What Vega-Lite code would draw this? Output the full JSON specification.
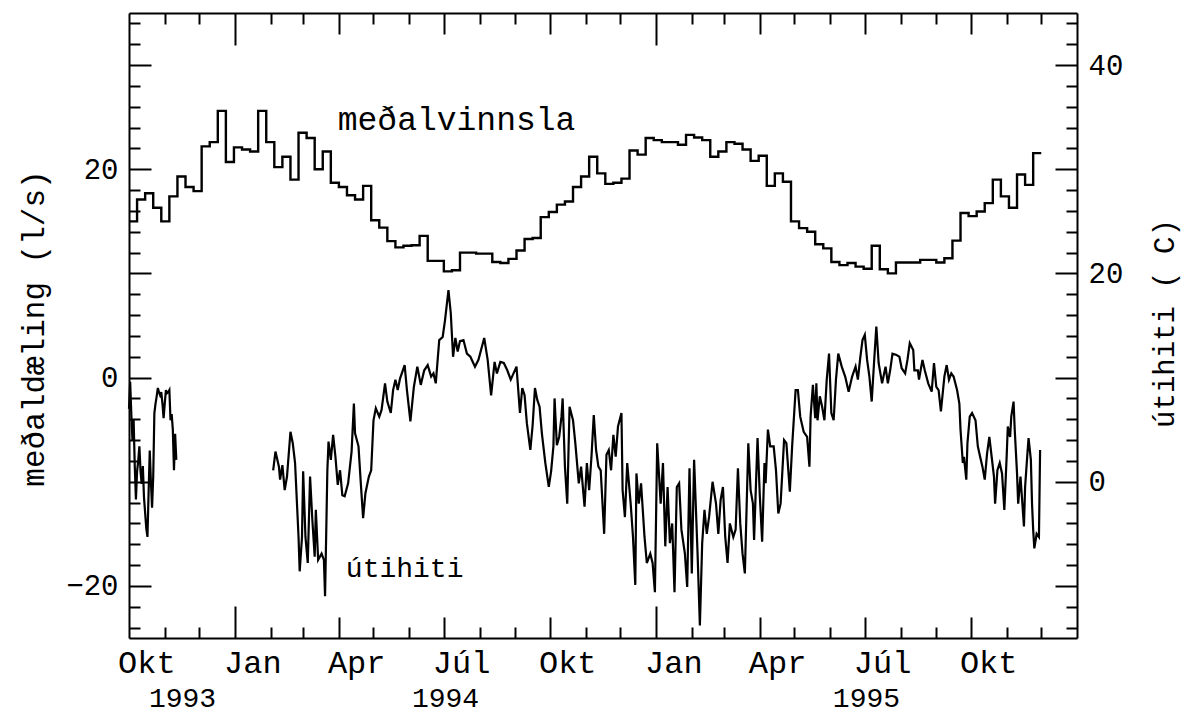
{
  "$schema": "https://vega.github.io/schema/vega-lite/v6.json",
  "autosize": "none",
  "width": 948,
  "height": 625,
  "padding": {"left": 129, "top": 13, "right": 106, "bottom": 76},
  "background": "white",
  "config": {
    "font": "Liberation Mono",
    "view": {"stroke": null},
    "axis": {"grid": false, "domainColor": "black", "domainWidth": 2, "tickColor": "black", "tickWidth": 2, "labelColor": "black", "titleColor": "black", "labelFont": "Liberation Mono", "titleFont": "Liberation Mono", "titleFontWeight": "normal", "labelFlush": false, "labelOverlap": false, "labelBound": false}
  },
  "datasets": {
    "cons": [
      {"d":"1993-10-01","v":15.0},{"d":"1993-10-08","v":17.1},{"d":"1993-10-15","v":17.7},{"d":"1993-10-22","v":16.3},{"d":"1993-10-29","v":15.0},
      {"d":"1993-11-05","v":17.4},{"d":"1993-11-12","v":19.3},{"d":"1993-11-19","v":18.3},{"d":"1993-11-26","v":17.9},{"d":"1993-12-03","v":22.2},
      {"d":"1993-12-10","v":22.6},{"d":"1993-12-17","v":25.6},{"d":"1993-12-24","v":20.7},{"d":"1993-12-31","v":22.1},{"d":"1994-01-07","v":21.9},
      {"d":"1994-01-14","v":21.7},{"d":"1994-01-21","v":25.6},{"d":"1994-01-28","v":22.6},{"d":"1994-02-04","v":20.2},{"d":"1994-02-11","v":21.2},
      {"d":"1994-02-18","v":19.0},{"d":"1994-02-25","v":23.5},{"d":"1994-03-04","v":23.0},{"d":"1994-03-11","v":20.0},{"d":"1994-03-18","v":21.7},
      {"d":"1994-03-25","v":18.7},{"d":"1994-04-01","v":18.3},{"d":"1994-04-08","v":17.5},{"d":"1994-04-15","v":17.1},{"d":"1994-04-22","v":18.4},
      {"d":"1994-04-29","v":15.1},{"d":"1994-05-06","v":14.4},{"d":"1994-05-13","v":13.1},{"d":"1994-05-20","v":12.5},{"d":"1994-05-27","v":12.65},
      {"d":"1994-06-03","v":12.7},{"d":"1994-06-10","v":13.6},{"d":"1994-06-17","v":11.2},{"d":"1994-06-24","v":11.2},{"d":"1994-07-01","v":10.2},
      {"d":"1994-07-08","v":10.3},{"d":"1994-07-15","v":12.0},{"d":"1994-07-22","v":12.0},{"d":"1994-07-29","v":11.9},{"d":"1994-08-05","v":11.9},
      {"d":"1994-08-12","v":11.1},{"d":"1994-08-19","v":11.0},{"d":"1994-08-26","v":11.4},{"d":"1994-09-02","v":12.2},{"d":"1994-09-09","v":13.3},
      {"d":"1994-09-16","v":13.4},{"d":"1994-09-23","v":15.4},{"d":"1994-09-30","v":15.9},{"d":"1994-10-07","v":16.6},{"d":"1994-10-14","v":16.9},
      {"d":"1994-10-21","v":18.3},{"d":"1994-10-28","v":19.3},{"d":"1994-11-04","v":21.2},{"d":"1994-11-11","v":19.6},{"d":"1994-11-18","v":18.6},
      {"d":"1994-11-25","v":18.7},{"d":"1994-12-02","v":19.1},{"d":"1994-12-09","v":21.8},{"d":"1994-12-16","v":21.4},{"d":"1994-12-23","v":23.0},
      {"d":"1994-12-30","v":22.8},{"d":"1995-01-06","v":22.6},{"d":"1995-01-13","v":22.6},{"d":"1995-01-20","v":22.35},{"d":"1995-01-27","v":23.3},
      {"d":"1995-02-03","v":23.05},{"d":"1995-02-10","v":22.8},{"d":"1995-02-17","v":21.2},{"d":"1995-02-24","v":21.7},{"d":"1995-03-03","v":22.6},
      {"d":"1995-03-10","v":22.45},{"d":"1995-03-17","v":21.9},{"d":"1995-03-24","v":20.8},{"d":"1995-03-31","v":21.3},{"d":"1995-04-07","v":18.4},
      {"d":"1995-04-14","v":19.6},{"d":"1995-04-21","v":18.8},{"d":"1995-04-28","v":15.0},{"d":"1995-05-05","v":14.35},{"d":"1995-05-12","v":14.0},
      {"d":"1995-05-19","v":12.8},{"d":"1995-05-26","v":12.4},{"d":"1995-06-02","v":11.1},{"d":"1995-06-09","v":10.8},{"d":"1995-06-16","v":11.0},
      {"d":"1995-06-23","v":10.65},{"d":"1995-06-30","v":10.45},{"d":"1995-07-07","v":12.65},{"d":"1995-07-14","v":10.4},{"d":"1995-07-21","v":10.0},
      {"d":"1995-07-28","v":11.05},{"d":"1995-08-04","v":11.05},{"d":"1995-08-11","v":11.05},{"d":"1995-08-18","v":11.3},{"d":"1995-08-25","v":11.3},
      {"d":"1995-09-01","v":11.05},{"d":"1995-09-08","v":11.45},{"d":"1995-09-15","v":13.15},{"d":"1995-09-22","v":15.8},{"d":"1995-09-29","v":15.5},
      {"d":"1995-10-06","v":15.95},{"d":"1995-10-13","v":16.75},{"d":"1995-10-20","v":19.0},{"d":"1995-10-27","v":17.4},{"d":"1995-11-03","v":16.3},
      {"d":"1995-11-10","v":19.5},{"d":"1995-11-17","v":18.5},{"d":"1995-11-24","v":21.55},{"d":"1995-12-01","v":21.55}
    ],
    "temp": [
      {"d":"1993-10-01","t":7.0,"s":1},{"d":"1993-10-02","t":9.6,"s":1},{"d":"1993-10-03","t":6.5,"s":1},{"d":"1993-10-04","t":4.0,"s":1},
      {"d":"1993-10-05","t":6.0,"s":1},{"d":"1993-10-06","t":1.5,"s":1},{"d":"1993-10-07","t":-1.7,"s":1},{"d":"1993-10-08","t":1.0,"s":1},
      {"d":"1993-10-09","t":2.0,"s":1},{"d":"1993-10-10","t":3.4,"s":1},{"d":"1993-10-11","t":1.0,"s":1},{"d":"1993-10-12","t":-0.2,"s":1},
      {"d":"1993-10-13","t":1.5,"s":1},{"d":"1993-10-14","t":-1.5,"s":1},{"d":"1993-10-15","t":-3.0,"s":1},{"d":"1993-10-16","t":-4.5,"s":1},
      {"d":"1993-10-17","t":-5.3,"s":1},{"d":"1993-10-18","t":-1.0,"s":1},{"d":"1993-10-19","t":3.0,"s":1},{"d":"1993-10-20","t":0.0,"s":1},
      {"d":"1993-10-21","t":-2.5,"s":1},{"d":"1993-10-22","t":0.5,"s":1},{"d":"1993-10-23","t":6.6,"s":1},{"d":"1993-10-24","t":7.5,"s":1},
      {"d":"1993-10-25","t":8.2,"s":1},{"d":"1993-10-26","t":9.0,"s":1},{"d":"1993-10-27","t":8.6,"s":1},{"d":"1993-10-28","t":8.3,"s":1},
      {"d":"1993-10-29","t":8.6,"s":1},{"d":"1993-10-30","t":7.5,"s":1},{"d":"1993-10-31","t":6.1,"s":1},{"d":"1993-11-01","t":7.5,"s":1},
      {"d":"1993-11-02","t":8.8,"s":1},{"d":"1993-11-03","t":8.5,"s":1},{"d":"1993-11-04","t":8.6,"s":1},{"d":"1993-11-05","t":8.8,"s":1},
      {"d":"1993-11-06","t":5.9,"s":1},{"d":"1993-11-07","t":6.5,"s":1},{"d":"1993-11-08","t":5.0,"s":1},{"d":"1993-11-09","t":1.1,"s":1},
      {"d":"1993-11-10","t":4.6,"s":1},{"d":"1993-11-11","t":2.1,"s":1},
      {"d":"1994-02-03","t":1.1,"s":2},{"d":"1994-02-05","t":2.9,"s":2},{"d":"1994-02-08","t":1.45,"s":2},{"d":"1994-02-09","t":0.2,"s":2},
      {"d":"1994-02-11","t":1.6,"s":2},{"d":"1994-02-13","t":-0.8,"s":2},{"d":"1994-02-15","t":0.5,"s":2},{"d":"1994-02-18","t":4.8,"s":2},
      {"d":"1994-02-20","t":3.7,"s":2},{"d":"1994-02-22","t":1.8,"s":2},{"d":"1994-02-25","t":-5.3,"s":2},{"d":"1994-02-26","t":-8.6,"s":2},
      {"d":"1994-02-28","t":-5.3,"s":2},{"d":"1994-03-01","t":1.0,"s":2},{"d":"1994-03-03","t":-5.3,"s":2},{"d":"1994-03-05","t":-7.8,"s":2},
      {"d":"1994-03-07","t":0.5,"s":2},{"d":"1994-03-09","t":-3.7,"s":2},{"d":"1994-03-11","t":-7.2,"s":2},{"d":"1994-03-12","t":-2.7,"s":2},
      {"d":"1994-03-14","t":-7.5,"s":2},{"d":"1994-03-17","t":-6.9,"s":2},{"d":"1994-03-19","t":-7.5,"s":2},{"d":"1994-03-20","t":-11.0,"s":2},
      {"d":"1994-03-22","t":1.1,"s":2},{"d":"1994-03-23","t":3.85,"s":2},{"d":"1994-03-25","t":2.1,"s":2},{"d":"1994-03-27","t":4.5,"s":2},
      {"d":"1994-03-29","t":2.4,"s":2},{"d":"1994-03-31","t":-0.3,"s":2},{"d":"1994-04-02","t":1.1,"s":2},{"d":"1994-04-04","t":-1.3,"s":2},
      {"d":"1994-04-06","t":-1.4,"s":2},{"d":"1994-04-09","t":-0.15,"s":2},{"d":"1994-04-12","t":2.9,"s":2},{"d":"1994-04-14","t":7.5,"s":2},
      {"d":"1994-04-15","t":4.65,"s":2},{"d":"1994-04-18","t":3.4,"s":2},{"d":"1994-04-20","t":-0.15,"s":2},{"d":"1994-04-22","t":-3.5,"s":2},
      {"d":"1994-04-24","t":-1.1,"s":2},{"d":"1994-04-27","t":0.5,"s":2},{"d":"1994-04-29","t":1.1,"s":2},{"d":"1994-05-01","t":5.9,"s":2},
      {"d":"1994-05-03","t":7.05,"s":2},{"d":"1994-05-06","t":6.25,"s":2},{"d":"1994-05-08","t":6.9,"s":2},{"d":"1994-05-11","t":9.45,"s":2},
      {"d":"1994-05-13","t":7.7,"s":2},{"d":"1994-05-16","t":6.6,"s":2},{"d":"1994-05-18","t":8.8,"s":2},{"d":"1994-05-20","t":9.8,"s":2},
      {"d":"1994-05-22","t":8.8,"s":2},{"d":"1994-05-24","t":9.9,"s":2},{"d":"1994-05-28","t":11.2,"s":2},{"d":"1994-05-30","t":8.8,"s":2},
      {"d":"1994-06-02","t":5.8,"s":2},{"d":"1994-06-05","t":9.1,"s":2},{"d":"1994-06-08","t":11.05,"s":2},{"d":"1994-06-11","t":9.3,"s":2},
      {"d":"1994-06-14","t":10.7,"s":2},{"d":"1994-06-17","t":11.2,"s":2},{"d":"1994-06-20","t":10.1,"s":2},{"d":"1994-06-22","t":10.4,"s":2},
      {"d":"1994-06-24","t":9.45,"s":2},{"d":"1994-06-27","t":13.6,"s":2},{"d":"1994-06-30","t":13.9,"s":2},{"d":"1994-07-02","t":15.5,"s":2},
      {"d":"1994-07-05","t":18.4,"s":2},{"d":"1994-07-07","t":16.2,"s":2},{"d":"1994-07-09","t":12.0,"s":2},{"d":"1994-07-11","t":13.8,"s":2},
      {"d":"1994-07-13","t":12.5,"s":2},{"d":"1994-07-15","t":13.5,"s":2},{"d":"1994-07-18","t":13.6,"s":2},{"d":"1994-07-21","t":12.3,"s":2},
      {"d":"1994-07-24","t":12.0,"s":2},{"d":"1994-07-28","t":11.05,"s":2},{"d":"1994-07-31","t":11.7,"s":2},{"d":"1994-08-05","t":13.8,"s":2},
      {"d":"1994-08-08","t":11.7,"s":2},{"d":"1994-08-11","t":8.3,"s":2},{"d":"1994-08-14","t":11.5,"s":2},{"d":"1994-08-16","t":10.4,"s":2},
      {"d":"1994-08-19","t":11.5,"s":2},{"d":"1994-08-22","t":11.4,"s":2},{"d":"1994-08-25","t":10.7,"s":2},{"d":"1994-08-28","t":9.8,"s":2},
      {"d":"1994-09-02","t":11.05,"s":2},{"d":"1994-09-05","t":6.6,"s":2},{"d":"1994-09-07","t":9.0,"s":2},{"d":"1994-09-09","t":8.3,"s":2},
      {"d":"1994-09-11","t":5.6,"s":2},{"d":"1994-09-14","t":3.05,"s":2},{"d":"1994-09-16","t":5.45,"s":2},{"d":"1994-09-18","t":9.0,"s":2},
      {"d":"1994-09-20","t":7.85,"s":2},{"d":"1994-09-22","t":7.2,"s":2},{"d":"1994-09-24","t":4.65,"s":2},{"d":"1994-09-27","t":1.8,"s":2},
      {"d":"1994-09-30","t":-0.5,"s":2},{"d":"1994-10-02","t":1.0,"s":2},{"d":"1994-10-04","t":3.4,"s":2},{"d":"1994-10-05","t":8.0,"s":2},
      {"d":"1994-10-07","t":3.5,"s":2},{"d":"1994-10-09","t":4.3,"s":2},{"d":"1994-10-11","t":6.25,"s":2},{"d":"1994-10-12","t":8.0,"s":2},
      {"d":"1994-10-14","t":1.45,"s":2},{"d":"1994-10-16","t":-2.1,"s":2},{"d":"1994-10-18","t":7.2,"s":2},{"d":"1994-10-21","t":5.9,"s":2},
      {"d":"1994-10-23","t":3.7,"s":2},{"d":"1994-10-26","t":-0.15,"s":2},{"d":"1994-10-28","t":1.45,"s":2},{"d":"1994-10-31","t":-2.4,"s":2},
      {"d":"1994-11-02","t":1.8,"s":2},{"d":"1994-11-04","t":-0.8,"s":2},{"d":"1994-11-06","t":2.4,"s":2},{"d":"1994-11-08","t":6.4,"s":2},
      {"d":"1994-11-10","t":3.05,"s":2},{"d":"1994-11-12","t":1.45,"s":2},{"d":"1994-11-14","t":1.1,"s":2},{"d":"1994-11-17","t":-5.0,"s":2},
      {"d":"1994-11-19","t":2.6,"s":2},{"d":"1994-11-21","t":3.05,"s":2},{"d":"1994-11-23","t":1.1,"s":2},{"d":"1994-11-25","t":4.5,"s":2},
      {"d":"1994-11-27","t":2.4,"s":2},{"d":"1994-11-29","t":5.3,"s":2},{"d":"1994-12-02","t":6.6,"s":2},{"d":"1994-12-03","t":-0.8,"s":2},
      {"d":"1994-12-05","t":-3.4,"s":2},{"d":"1994-12-07","t":1.8,"s":2},{"d":"1994-12-10","t":-2.1,"s":2},{"d":"1994-12-12","t":-5.3,"s":2},
      {"d":"1994-12-14","t":-9.9,"s":2},{"d":"1994-12-15","t":0.8,"s":2},{"d":"1994-12-17","t":-2.1,"s":2},{"d":"1994-12-19","t":-0.15,"s":2},
      {"d":"1994-12-22","t":-5.3,"s":2},{"d":"1994-12-24","t":-7.8,"s":2},{"d":"1994-12-27","t":-6.9,"s":2},{"d":"1994-12-29","t":-7.8,"s":2},
      {"d":"1994-12-31","t":-10.6,"s":2},{"d":"1995-01-02","t":3.7,"s":2},{"d":"1995-01-05","t":-2.1,"s":2},{"d":"1995-01-07","t":1.8,"s":2},
      {"d":"1995-01-09","t":-6.2,"s":2},{"d":"1995-01-11","t":-0.5,"s":2},{"d":"1995-01-13","t":-5.9,"s":2},{"d":"1995-01-15","t":-4.0,"s":2},
      {"d":"1995-01-17","t":-10.6,"s":2},{"d":"1995-01-19","t":-0.5,"s":2},{"d":"1995-01-21","t":-0.15,"s":2},{"d":"1995-01-23","t":-4.6,"s":2},
      {"d":"1995-01-26","t":-6.9,"s":2},{"d":"1995-01-28","t":-10.1,"s":2},{"d":"1995-01-30","t":1.3,"s":2},{"d":"1995-02-01","t":-8.8,"s":2},
      {"d":"1995-02-03","t":2.1,"s":2},{"d":"1995-02-06","t":-6.9,"s":2},{"d":"1995-02-08","t":-13.8,"s":2},{"d":"1995-02-10","t":-5.9,"s":2},
      {"d":"1995-02-12","t":-2.7,"s":2},{"d":"1995-02-14","t":-5.0,"s":2},{"d":"1995-02-16","t":-3.35,"s":2},{"d":"1995-02-19","t":0.0,"s":2},
      {"d":"1995-02-22","t":-2.1,"s":2},{"d":"1995-02-24","t":-5.0,"s":2},{"d":"1995-02-26","t":-1.75,"s":2},{"d":"1995-02-28","t":-0.5,"s":2},
      {"d":"1995-03-02","t":-5.3,"s":2},{"d":"1995-03-04","t":-7.8,"s":2},{"d":"1995-03-06","t":-4.0,"s":2},{"d":"1995-03-09","t":-5.3,"s":2},
      {"d":"1995-03-11","t":-4.6,"s":2},{"d":"1995-03-13","t":1.3,"s":2},{"d":"1995-03-15","t":-4.0,"s":2},{"d":"1995-03-17","t":-6.9,"s":2},
      {"d":"1995-03-19","t":-8.8,"s":2},{"d":"1995-03-22","t":3.7,"s":2},{"d":"1995-03-24","t":-0.8,"s":2},{"d":"1995-03-26","t":-2.1,"s":2},
      {"d":"1995-03-27","t":-5.6,"s":2},{"d":"1995-03-30","t":4.2,"s":2},{"d":"1995-04-01","t":-1.4,"s":2},{"d":"1995-04-03","t":-5.75,"s":2},
      {"d":"1995-04-05","t":1.8,"s":2},{"d":"1995-04-06","t":-0.15,"s":2},{"d":"1995-04-08","t":5.0,"s":2},{"d":"1995-04-10","t":3.4,"s":2},
      {"d":"1995-04-13","t":3.4,"s":2},{"d":"1995-04-15","t":1.1,"s":2},{"d":"1995-04-17","t":-3.05,"s":2},{"d":"1995-04-19","t":-2.1,"s":2},
      {"d":"1995-04-22","t":4.0,"s":2},{"d":"1995-04-24","t":3.7,"s":2},{"d":"1995-04-27","t":-0.95,"s":2},{"d":"1995-04-29","t":3.4,"s":2},
      {"d":"1995-05-02","t":8.8,"s":2},{"d":"1995-05-04","t":8.8,"s":2},{"d":"1995-05-06","t":6.25,"s":2},{"d":"1995-05-09","t":4.8,"s":2},
      {"d":"1995-05-12","t":4.3,"s":2},{"d":"1995-05-14","t":1.45,"s":2},{"d":"1995-05-15","t":6.25,"s":2},{"d":"1995-05-17","t":9.3,"s":2},
      {"d":"1995-05-19","t":6.1,"s":2},{"d":"1995-05-20","t":9.45,"s":2},{"d":"1995-05-21","t":5.9,"s":2},{"d":"1995-05-23","t":8.2,"s":2},
      {"d":"1995-05-25","t":7.2,"s":2},{"d":"1995-05-27","t":5.9,"s":2},{"d":"1995-05-29","t":9.8,"s":2},{"d":"1995-05-31","t":12.3,"s":2},
      {"d":"1995-06-02","t":6.6,"s":2},{"d":"1995-06-04","t":5.9,"s":2},{"d":"1995-06-06","t":9.8,"s":2},{"d":"1995-06-08","t":12.3,"s":2},
      {"d":"1995-06-11","t":11.05,"s":2},{"d":"1995-06-14","t":10.1,"s":2},{"d":"1995-06-17","t":8.65,"s":2},{"d":"1995-06-20","t":10.1,"s":2},
      {"d":"1995-06-23","t":11.05,"s":2},{"d":"1995-06-25","t":9.8,"s":2},{"d":"1995-06-27","t":11.85,"s":2},{"d":"1995-06-29","t":13.6,"s":2},
      {"d":"1995-07-01","t":14.1,"s":2},{"d":"1995-07-03","t":11.7,"s":2},{"d":"1995-07-05","t":10.1,"s":2},{"d":"1995-07-07","t":7.7,"s":2},
      {"d":"1995-07-09","t":11.4,"s":2},{"d":"1995-07-11","t":14.9,"s":2},{"d":"1995-07-13","t":11.4,"s":2},{"d":"1995-07-16","t":9.45,"s":2},
      {"d":"1995-07-19","t":11.05,"s":2},{"d":"1995-07-21","t":9.45,"s":2},{"d":"1995-07-23","t":10.7,"s":2},{"d":"1995-07-25","t":12.3,"s":2},
      {"d":"1995-07-28","t":12.2,"s":2},{"d":"1995-07-31","t":12.0,"s":2},{"d":"1995-08-02","t":10.9,"s":2},{"d":"1995-08-05","t":10.4,"s":2},
      {"d":"1995-08-07","t":11.7,"s":2},{"d":"1995-08-09","t":13.3,"s":2},{"d":"1995-08-12","t":12.65,"s":2},{"d":"1995-08-13","t":10.7,"s":2},
      {"d":"1995-08-16","t":10.7,"s":2},{"d":"1995-08-17","t":9.8,"s":2},{"d":"1995-08-20","t":11.7,"s":2},{"d":"1995-08-22","t":10.7,"s":2},
      {"d":"1995-08-25","t":9.45,"s":2},{"d":"1995-08-28","t":8.65,"s":2},{"d":"1995-08-30","t":11.4,"s":2},{"d":"1995-09-01","t":9.1,"s":2},
      {"d":"1995-09-03","t":8.8,"s":2},{"d":"1995-09-05","t":6.75,"s":2},{"d":"1995-09-08","t":10.1,"s":2},{"d":"1995-09-10","t":11.2,"s":2},
      {"d":"1995-09-12","t":9.8,"s":2},{"d":"1995-09-14","t":10.4,"s":2},{"d":"1995-09-16","t":10.1,"s":2},{"d":"1995-09-19","t":8.8,"s":2},
      {"d":"1995-09-21","t":7.5,"s":2},{"d":"1995-09-22","t":5.0,"s":2},{"d":"1995-09-24","t":1.8,"s":2},{"d":"1995-09-25","t":2.4,"s":2},
      {"d":"1995-09-27","t":0.2,"s":2},{"d":"1995-09-28","t":3.7,"s":2},{"d":"1995-09-30","t":6.25,"s":2},{"d":"1995-10-02","t":6.6,"s":2},
      {"d":"1995-10-05","t":5.9,"s":2},{"d":"1995-10-07","t":3.4,"s":2},{"d":"1995-10-09","t":2.4,"s":2},{"d":"1995-10-11","t":1.45,"s":2},
      {"d":"1995-10-13","t":0.2,"s":2},{"d":"1995-10-15","t":2.7,"s":2},{"d":"1995-10-17","t":4.3,"s":2},{"d":"1995-10-19","t":2.4,"s":2},
      {"d":"1995-10-21","t":0.5,"s":2},{"d":"1995-10-22","t":-2.1,"s":2},{"d":"1995-10-24","t":1.1,"s":2},{"d":"1995-10-26","t":1.8,"s":2},
      {"d":"1995-10-28","t":0.8,"s":2},{"d":"1995-10-30","t":-2.7,"s":2},{"d":"1995-11-01","t":2.4,"s":2},{"d":"1995-11-02","t":5.3,"s":2},
      {"d":"1995-11-04","t":4.3,"s":2},{"d":"1995-11-05","t":6.25,"s":2},{"d":"1995-11-07","t":7.7,"s":2},{"d":"1995-11-08","t":5.0,"s":2},
      {"d":"1995-11-10","t":0.8,"s":2},{"d":"1995-11-11","t":-2.1,"s":2},{"d":"1995-11-13","t":0.5,"s":2},{"d":"1995-11-14","t":-1.1,"s":2},
      {"d":"1995-11-16","t":-4.3,"s":2},{"d":"1995-11-17","t":-0.5,"s":2},{"d":"1995-11-19","t":2.7,"s":2},{"d":"1995-11-20","t":4.2,"s":2},
      {"d":"1995-11-22","t":2.1,"s":2},{"d":"1995-11-23","t":-2.1,"s":2},{"d":"1995-11-24","t":-4.6,"s":2},{"d":"1995-11-25","t":-6.4,"s":2},
      {"d":"1995-11-27","t":-5.0,"s":2},{"d":"1995-11-29","t":-5.3,"s":2},{"d":"1995-11-30","t":3.05,"s":2}
    ]
  },
  "resolve": {"scale": {"y": "independent"}, "axis": {"x": "independent", "y": "independent"}},
  "layer": [
    {
      "data": {"name": "cons"},
      "mark": {"type": "line", "interpolate": "step-after", "color": "black", "strokeWidth": 2.4},
      "encoding": {
        "x": {"field": "d", "type": "temporal",
          "scale": {"domain": [{"year": 1993, "month": 10, "date": 1, "utc": true}, {"year": 1996, "month": 1, "date": 1, "utc": true}], "nice": false},
          "axis": {"orient": "bottom", "title": null, "labels": false, "domain": true,
            "values": [
              {"year":1993,"month":11,"date":1,"utc":true},{"year":1993,"month":12,"date":1,"utc":true},
              {"year":1994,"month":1,"date":1,"utc":true},{"year":1994,"month":2,"date":1,"utc":true},{"year":1994,"month":3,"date":1,"utc":true},
              {"year":1994,"month":4,"date":1,"utc":true},{"year":1994,"month":5,"date":1,"utc":true},{"year":1994,"month":6,"date":1,"utc":true},
              {"year":1994,"month":7,"date":1,"utc":true},{"year":1994,"month":8,"date":1,"utc":true},{"year":1994,"month":9,"date":1,"utc":true},
              {"year":1994,"month":10,"date":1,"utc":true},{"year":1994,"month":11,"date":1,"utc":true},{"year":1994,"month":12,"date":1,"utc":true},
              {"year":1995,"month":1,"date":1,"utc":true},{"year":1995,"month":2,"date":1,"utc":true},{"year":1995,"month":3,"date":1,"utc":true},
              {"year":1995,"month":4,"date":1,"utc":true},{"year":1995,"month":5,"date":1,"utc":true},{"year":1995,"month":6,"date":1,"utc":true},
              {"year":1995,"month":7,"date":1,"utc":true},{"year":1995,"month":8,"date":1,"utc":true},{"year":1995,"month":9,"date":1,"utc":true},
              {"year":1995,"month":10,"date":1,"utc":true},{"year":1995,"month":11,"date":1,"utc":true},{"year":1995,"month":12,"date":1,"utc":true}
            ],
            "tickSize": {"condition": [{"test": "utcmonth(datum.value) === 0", "value": -32}, {"test": "utcmonth(datum.value) % 3 === 0", "value": -21}], "value": -11}
          }
        },
        "y": {"field": "v", "type": "quantitative",
          "scale": {"domain": [-25, 35], "nice": false, "zero": false},
          "axis": {"orient": "left", "values": [-24,-22,-20,-18,-16,-14,-12,-10,-8,-6,-4,-2,0,2,4,6,8,10,12,14,16,18,20,22,24,26,28,30,32,34],
            "tickSize": {"condition": {"test": "datum.value % 10 === 0", "value": -22}, "value": -11},
            "labelExpr": "datum.value % 20 === 0 ? datum.label : ''",
            "labelPadding": 33, "labelFontSize": 29,
            "title": "meðaldæling (l/s)", "titleFontSize": 31, "titleAngle": -90, "titleX": -86, "titleY": 315, "titleBaseline": "alphabetic", "titleAlign": "center"}
        }
      }
    },
    {
      "data": {"name": "temp"},
      "mark": {"type": "line", "color": "black", "strokeWidth": 2.2},
      "encoding": {
        "x": {"field": "d", "type": "temporal",
          "scale": {"domain": [{"year": 1993, "month": 10, "date": 1, "utc": true}, {"year": 1996, "month": 1, "date": 1, "utc": true}], "nice": false},
          "axis": {"orient": "top", "title": null, "labels": false, "domain": true,
            "values": [
              {"year":1993,"month":11,"date":1,"utc":true},{"year":1993,"month":12,"date":1,"utc":true},
              {"year":1994,"month":1,"date":1,"utc":true},{"year":1994,"month":2,"date":1,"utc":true},{"year":1994,"month":3,"date":1,"utc":true},
              {"year":1994,"month":4,"date":1,"utc":true},{"year":1994,"month":5,"date":1,"utc":true},{"year":1994,"month":6,"date":1,"utc":true},
              {"year":1994,"month":7,"date":1,"utc":true},{"year":1994,"month":8,"date":1,"utc":true},{"year":1994,"month":9,"date":1,"utc":true},
              {"year":1994,"month":10,"date":1,"utc":true},{"year":1994,"month":11,"date":1,"utc":true},{"year":1994,"month":12,"date":1,"utc":true},
              {"year":1995,"month":1,"date":1,"utc":true},{"year":1995,"month":2,"date":1,"utc":true},{"year":1995,"month":3,"date":1,"utc":true},
              {"year":1995,"month":4,"date":1,"utc":true},{"year":1995,"month":5,"date":1,"utc":true},{"year":1995,"month":6,"date":1,"utc":true},
              {"year":1995,"month":7,"date":1,"utc":true},{"year":1995,"month":8,"date":1,"utc":true},{"year":1995,"month":9,"date":1,"utc":true},
              {"year":1995,"month":10,"date":1,"utc":true},{"year":1995,"month":11,"date":1,"utc":true},{"year":1995,"month":12,"date":1,"utc":true}
            ],
            "tickSize": {"condition": [{"test": "utcmonth(datum.value) === 0", "value": -32}, {"test": "utcmonth(datum.value) % 3 === 0", "value": -21}], "value": -11}
          }
        },
        "y": {"field": "t", "type": "quantitative",
          "scale": {"domain": [-15, 45], "nice": false, "zero": false},
          "axis": {"orient": "right", "values": [-14,-12,-10,-8,-6,-4,-2,0,2,4,6,8,10,12,14,16,18,20,22,24,26,28,30,32,34,36,38,40,42,44],
            "tickSize": {"condition": {"test": "datum.value % 10 === 0", "value": -22}, "value": -11},
            "labelExpr": "datum.value % 20 === 0 ? datum.label : ''",
            "labelPadding": 33, "labelFontSize": 29,
            "title": "útihiti ( C)", "titleFontSize": 29, "titleAngle": -90, "titleX": 96, "titleY": 310, "titleBaseline": "alphabetic", "titleAlign": "center"}
        },
        "detail": {"field": "s", "type": "nominal"}
      }
    },
    {
      "data": {"values": [{"label": "meðalvinnsla", "d": "1994-07-12", "v": 23.8}]},
      "mark": {"type": "text", "color": "black", "fontSize": 33, "font": "Liberation Mono", "align": "center", "baseline": "alphabetic"},
      "encoding": {
        "x": {"field": "d", "type": "temporal",
          "scale": {"domain": [{"year": 1993, "month": 10, "date": 1, "utc": true}, {"year": 1996, "month": 1, "date": 1, "utc": true}], "nice": false},
          "axis": {"orient": "bottom", "title": null, "ticks": false, "domain": false, "labelFontSize": 32, "labelPadding": 9,
            "values": [
              {"year":1993,"month":10,"date":16,"utc":true},{"year":1994,"month":1,"date":16,"utc":true},{"year":1994,"month":4,"date":16,"utc":true},
              {"year":1994,"month":7,"date":16,"utc":true},{"year":1994,"month":10,"date":16,"utc":true},{"year":1995,"month":1,"date":16,"utc":true},
              {"year":1995,"month":4,"date":16,"utc":true},{"year":1995,"month":7,"date":16,"utc":true},{"year":1995,"month":10,"date":16,"utc":true}
            ],
            "labelExpr": "utcmonth(datum.value) === 0 ? 'Jan' : utcmonth(datum.value) === 3 ? 'Apr' : utcmonth(datum.value) === 6 ? 'Júl' : 'Okt'"
          }
        },
        "y": {"field": "v", "type": "quantitative", "scale": {"domain": [-25, 35], "nice": false, "zero": false}, "axis": null},
        "text": {"field": "label"}
      }
    },
    {
      "data": {"values": [{"label": "útihiti", "d": "1994-05-28", "v": -19.1}]},
      "mark": {"type": "text", "color": "black", "fontSize": 28, "font": "Liberation Mono", "align": "center", "baseline": "alphabetic"},
      "encoding": {
        "x": {"field": "d", "type": "temporal",
          "scale": {"domain": [{"year": 1993, "month": 10, "date": 1, "utc": true}, {"year": 1996, "month": 1, "date": 1, "utc": true}], "nice": false},
          "axis": {"orient": "bottom", "title": null, "ticks": false, "domain": false, "labelFontSize": 28, "labelPadding": 68, "labelBaseline": "alphabetic",
            "values": [{"year":1993,"month":11,"date":16,"utc":true},{"year":1994,"month":7,"date":2,"utc":true},{"year":1995,"month":7,"date":2,"utc":true}],
            "labelExpr": "'' + utcyear(datum.value)"
          }
        },
        "y": {"field": "v", "type": "quantitative", "scale": {"domain": [-25, 35], "nice": false, "zero": false}, "axis": null},
        "text": {"field": "label"}
      }
    }
  ]
}
